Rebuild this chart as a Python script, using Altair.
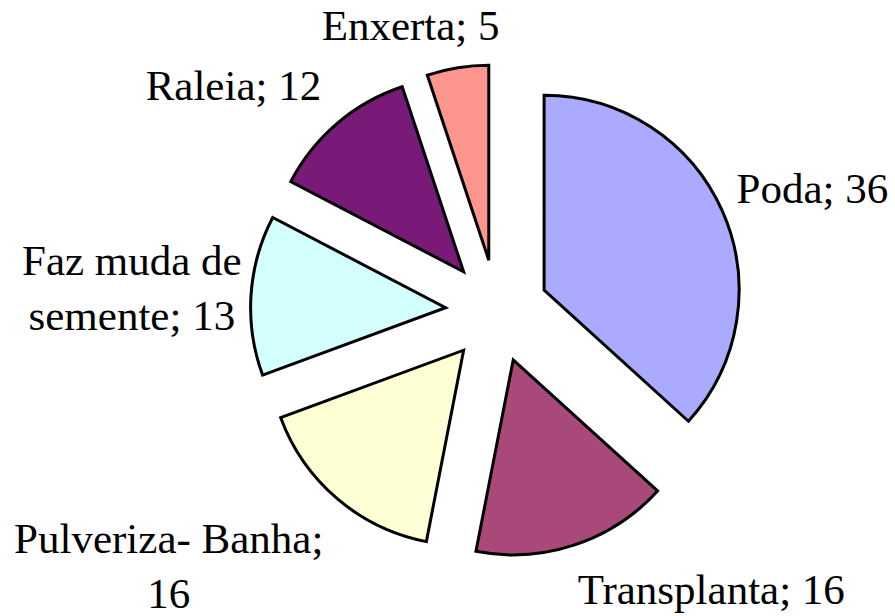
import altair as alt
import pandas as pd

# ---- data ----
categories = ["Poda", "Transplanta", "Pulveriza- Banha", "Faz muda de semente", "Raleia", "Enxerta"]
values = [36, 16, 16, 13, 12, 5]
labels = ["Poda; 36", "Transplanta; 16", "Pulveriza- Banha;\n16", "Faz muda de\nsemente; 13", "Raleia; 12", "Enxerta; 5"]
colors = ["#AAAAFF", "#A8497A", "#FFFFD6", "#D4FFFF", "#7A1A78", "#FF958F"]

# ---- layout (pixels) ----
W, H = 895, 616
CX, CY = 497, 311      # pie centre
RADIUS = 195           # pie radius
EXPLODE = 51.5         # slice explosion distance
LABEL_RX = 264         # horizontal distance of label anchor from centre
LABEL_RY_TOP = 266     # vertical distance (upper half)
LABEL_RY_BOT = 272     # vertical distance (lower half)
FS = 43                # label font size
LH = 55                # label line height

df = pd.DataFrame({"order": list(range(len(categories))),
                   "category": categories, "value": values, "label": labels})

base = alt.Chart(df).transform_window(
    cum="sum(value)", frame=[None, 0], sort=[alt.SortField("order")]
).transform_joinaggregate(
    total="sum(value)"
).transform_calculate(
    start="datum.cum - datum.value",
    mid="2*PI*(datum.cum - datum.value/2)/datum.total",
).transform_calculate(
    s="sin(datum.mid)", c="cos(datum.mid)",
).transform_calculate(
    px=f"{CX} + {EXPLODE}*datum.s",
    py=f"{CY} - {EXPLODE}*datum.c",
    lines="split(datum.label, '\\n')",
).transform_calculate(
    nchar="max(length(datum.lines[0]), datum.lines.length > 1 ? length(datum.lines[1]) : 0)",
    nlines="datum.lines.length",
).transform_calculate(
    lw=f"datum.nchar*0.43*{FS}",
    lh=f"{FS} + (datum.nlines-1)*{LH}",
    lry=f"datum.c > 0 ? {LABEL_RY_TOP} : {LABEL_RY_BOT}",
).transform_calculate(
    lx=f"{CX} + {LABEL_RX}*datum.s + datum.lw/2*clamp(3*datum.s, -1, 1)",
    ly=f"{CY} - datum.lry*datum.c - datum.lh/2*clamp(1.5*datum.c, -1, 1) - (datum.nlines-1)*{LH}/2",
)

arcs = base.mark_arc(radius=RADIUS, stroke="black", strokeWidth=3, strokeJoin="miter").encode(
    theta=alt.Theta("start:Q", stack=None,
                    scale=alt.Scale(domain=[0, sum(values)], range=[0, 6.283185307179586])),
    theta2="cum:Q",
    x=alt.X("px:Q", scale=None),
    y=alt.Y("py:Q", scale=None),
    color=alt.Color("category:N", scale=alt.Scale(domain=categories, range=colors), legend=None),
)

text = base.mark_text(font="Liberation Serif, DejaVu Serif, serif", fontSize=FS,
                      lineHeight=LH, lineBreak="\n",
                      align="center", baseline="middle", color="black").encode(
    x=alt.X("lx:Q", scale=None),
    y=alt.Y("ly:Q", scale=None),
    text="label:N",
)

chart = (arcs + text).properties(
    width=W, height=H,
    autosize=alt.AutoSizeParams(type="none"),
    padding=0,
    background="white",
).configure_view(stroke=None)

chart.save("out.html", embed_options={"renderer": "svg", "actions": False})
